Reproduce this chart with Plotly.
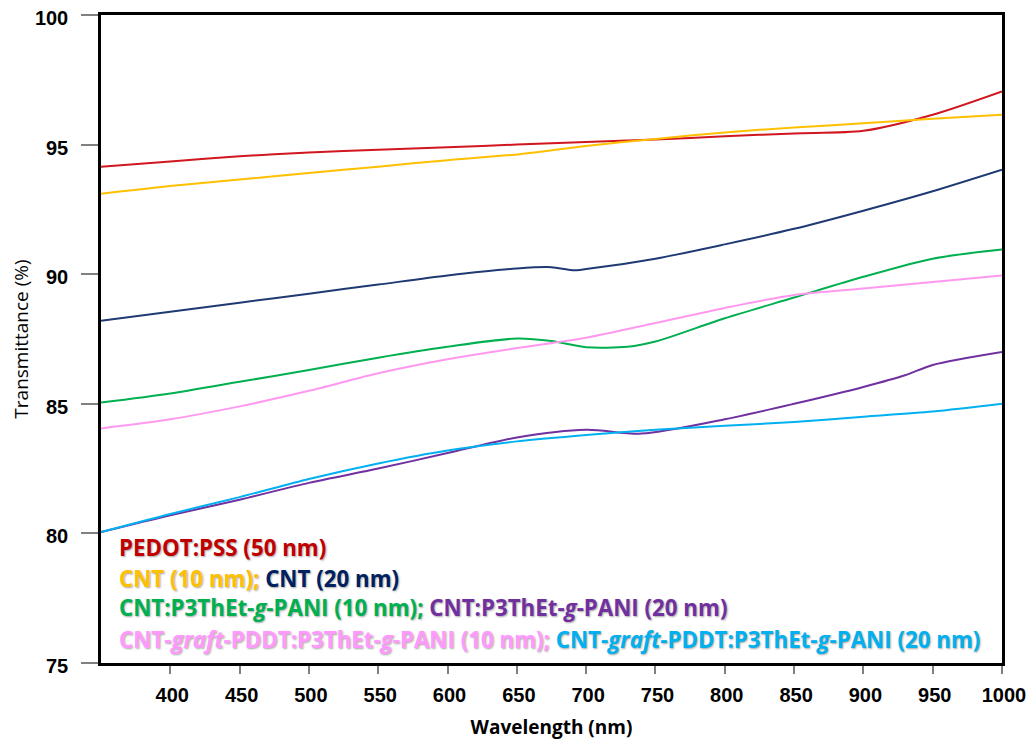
import plotly.graph_objects as go

wl = [350, 400, 450, 500, 550, 600, 650, 700, 750, 800, 850, 900, 950, 1000]

pedot_50 = [94.15, 94.35, 94.55, 94.7, 94.8, 94.9, 95.0, 95.1, 95.2, 95.32, 95.43, 95.53, 96.15, 97.05]
cnt_10 = [93.1, 93.4, 93.65, 93.9, 94.15, 94.4, 94.62, 94.95, 95.22, 95.47, 95.66, 95.82, 96.0, 96.15]

wl_b = [350, 400, 450, 500, 550, 600, 650, 675, 690, 700, 750, 800, 850, 900, 950, 1000]
cnt_20 = [88.2, 88.55, 88.9, 89.25, 89.6, 89.95, 90.22, 90.27, 90.15, 90.2, 90.6, 91.15, 91.75, 92.45, 93.2, 94.03]

wl_g = [350, 400, 450, 500, 550, 600, 650, 675, 700, 730, 750, 800, 850, 900, 950, 1000]
p3_10 = [85.05, 85.4, 85.85, 86.3, 86.78, 87.2, 87.52, 87.42, 87.18, 87.2, 87.4, 88.3, 89.1, 89.9, 90.6, 90.95]

pdt_10 = [84.05, 84.4, 84.9, 85.5, 86.18, 86.72, 87.15, 87.55, 88.12, 88.7, 89.2, 89.45, 89.7, 89.95]

wl_p = [350, 400, 450, 500, 550, 600, 650, 700, 740, 800, 850, 900, 930, 950, 1000]
p3_20 = [80.05, 80.7, 81.3, 81.95, 82.5, 83.1, 83.7, 84.0, 83.85, 84.4, 85.0, 85.65, 86.1, 86.5, 87.0]

pdt_20 = [80.05, 80.75, 81.4, 82.1, 82.7, 83.2, 83.55, 83.8, 84.0, 84.15, 84.3, 84.5, 84.7, 85.0]

x_ticks = [400, 450, 500, 550, 600, 650, 700, 750, 800, 850, 900, 950, 1000]
y_ticks = [75, 80, 85, 90, 95, 100]

series = [
    (wl, pedot_50, "#D0161E", "PEDOT:PSS (50 nm)"),
    (wl, cnt_10, "#FFC000", "CNT (10 nm)"),
    (wl_b, cnt_20, "#1F3A73", "CNT (20 nm)"),
    (wl_g, p3_10, "#00B050", "CNT:P3ThEt-g-PANI (10 nm)"),
    (wl, pdt_10, "#FF99F0", "CNT-graft-PDDT:P3ThEt-g-PANI (10 nm)"),
    (wl_p, p3_20, "#7030A0", "CNT:P3ThEt-g-PANI (20 nm)"),
    (wl, pdt_20, "#00B0F0", "CNT-graft-PDDT:P3ThEt-g-PANI (20 nm)"),
]

fig = go.Figure()
for xs, ys, c, name in series:
    fig.add_trace(go.Scatter(x=xs, y=ys, mode="lines", name=name,
                             line=dict(color=c, width=2, shape="spline", smoothing=0.8),
                             showlegend=False))

red = "#C00000"; yel = "#FFC000"; navy = "#002060"; grn = "#00B050"
pur = "#7030A0"; pnk = "#FF99FF"; cya = "#00B0F0"

def sp(color, txt):
    return f'<span style="color:{color}">{txt}</span>'

lines = [
    sp(red, "PEDOT:PSS (50 nm)"),
    sp(yel, "CNT (10 nm);") + " " + sp(navy, "CNT (20 nm)"),
    sp(grn, "CNT:P3ThEt-<i>g</i>-PANI (10 nm);") + " " + sp(pur, "CNT:P3ThEt-<i>g</i>-PANI (20 nm)"),
    sp(pnk, "CNT-<i>graft</i>-PDDT:P3ThEt-<i>g</i>-PANI (10 nm);") + " "
    + sp(cya, "CNT-<i>graft</i>-PDDT:P3ThEt-<i>g</i>-PANI (20 nm)"),
]
ypos = [0.1775, 0.131, 0.085, 0.036]
for txt, yp in zip(lines, ypos):
    fig.add_annotation(x=0.018, y=yp, xref="paper", yref="paper", xanchor="left",
                       yanchor="middle", showarrow=False, text="<b>" + txt + "</b>",
                       font=dict(family="Open Sans", size=22.3,
                                 shadow="1px 1px 2px rgba(0,0,0,0.35)"))

# the page body adds an 8px offset; margins compensate so the plot box sits at 101..1002 x 15..663
fig.update_layout(
    width=1034, height=742,
    margin=dict(l=93, r=40, t=7, b=87, autoexpand=False),
    paper_bgcolor="white", plot_bgcolor="white",
    font=dict(family="Liberation Sans", color="black"),
)
fig.update_xaxes(range=[350, 1000], tickvals=x_ticks,
                 ticktext=[str(v) for v in x_ticks], automargin=False,
                 showgrid=False, zeroline=False,
                 showline=True, linecolor="black", linewidth=2.5, mirror=True,
                 ticks="outside", ticklen=8, tickwidth=1.5, tickcolor="#808080",
                 ticklabelstandoff=4, ticklabelshift=2, ticklabeloverflow="allow",
                 tickfont=dict(family="Liberation Sans", size=20, weight="bold"),
                 title=dict(text="<b>Wavelength (nm)</b>", standoff=16,
                            font=dict(family="Open Sans", size=19)))
fig.update_yaxes(range=[75, 100], tickvals=y_ticks,
                 ticktext=[str(v) for v in y_ticks], automargin=False,
                 showgrid=False, zeroline=False,
                 showline=True, linecolor="black", linewidth=2.5, mirror=True,
                 ticks="outside", ticklen=17, tickwidth=1.5, tickcolor="#808080",
                 ticklabelstandoff=9, ticklabelshift=3, ticklabeloverflow="allow",
                 tickfont=dict(family="Liberation Sans", size=20, weight="bold"),
                 title=dict(text="Transmittance (%)", standoff=12,
                            font=dict(family="Open Sans", size=19)))

fig.write_html("out.html")
